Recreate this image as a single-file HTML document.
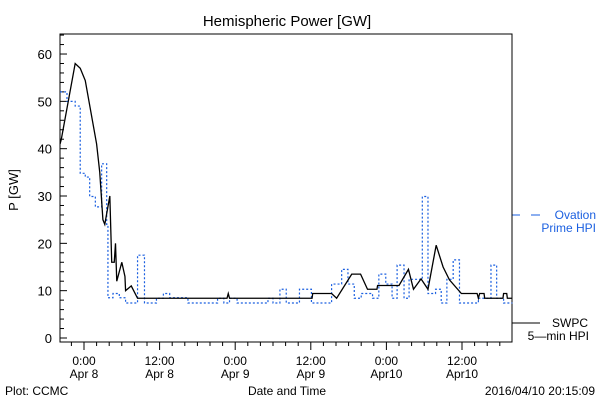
<!DOCTYPE html>
<html><head><meta charset="utf-8"><style>
body{margin:0;background:#fff;width:600px;height:400px;overflow:hidden}
svg text{font-family:"Liberation Sans",sans-serif}
</style></head><body>
<svg id="chart" width="600" height="400" xmlns="http://www.w3.org/2000/svg">
<text x="287" y="26" font-size="15" text-anchor="middle">Hemispheric Power [GW]</text>
<text x="0" y="0" font-size="13" text-anchor="middle" transform="translate(18,190) rotate(-90)">P [GW]</text>
<text x="287" y="395" font-size="12" text-anchor="middle">Date and Time</text>
<text x="5" y="395" font-size="12">Plot: CCMC</text>
<text x="595" y="395" font-size="12" text-anchor="end">2016/04/10 20:15:09</text>
<g fill="#1a5fe0">
<line x1="512" y1="215" x2="520" y2="215" stroke="#1a5fe0"/>
<line x1="531" y1="215" x2="540" y2="215" stroke="#1a5fe0"/>
<text x="596" y="219" font-size="12" text-anchor="end">Ovation</text>
<text x="596" y="232" font-size="12" text-anchor="end">Prime HPI</text>
</g>
<g>
<line x1="512" y1="323" x2="540" y2="323" stroke="#000"/>
<text x="588" y="327" font-size="12" text-anchor="end">SWPC</text>
<text x="589" y="340" font-size="12" text-anchor="end">5—min HPI</text>
</g>
<g id="plot"></g>
</svg>
<script>
// hours relative to Apr 8 00:00
const yTicks=[0,10,20,30,40,50,60];
const xTickHours=[0,12,24,36,48,60];
const xTickTop=["0:00","12:00","0:00","12:00","0:00","12:00"];
const xTickBottom=["Apr 8","Apr 8","Apr 9","Apr 9","Apr10","Apr10"];
const swpcT=[-3.8,-3.6,-1.4,-0.6,0.2,2,2.5,3,3.3,4.1,4.4,4.8,5,5.2,6,6.5,6.6,7.5,8.5,22.7,22.9,23.1,36.2,36.3,39.3,40.1,42.5,43.9,45,46.5,46.6,50,51.5,52.3,53.5,54.6,55.9,57,58,59.9,62.4,62.6,62.8,63.5,63.6,66.5,66.6,67.1,67.2,68];
const swpcV=[41,42,58,57,54.4,41,35,25,24,30,16,16,20,12,16,13,10,11,8.4,8.4,9.4,8.4,8.4,9.4,9.4,8.4,13.5,13.5,10.3,10.3,11.1,11.1,14.5,10.3,12.5,10.3,19.6,15,12.3,9.4,9.4,8.4,9.4,9.4,8.4,8.4,9.4,9.4,8.4,8.4];
const ovT=[-3.8,-2.7,-1.4,-0.6,0.2,0.9,1.8,2.8,3.6,3.8,4.6,5.6,6.6,8.5,9.6,11.5,12.6,13.6,16.5,21.2,22.2,23.1,24.3,29.2,30,31.1,32.1,34.2,36.1,39.3,40.9,41.9,42.9,44,45.8,46.8,47.9,48.9,49.7,50.8,51.6,53.7,54.6,55.8,56.7,57.6,58.6,59.6,62.6,64.6,65.5,66.6];
const ovV=[52,50,49,34.8,34,29.9,27.7,36.8,24,8.5,9.4,8.5,7.4,17.5,7.4,8.4,9.4,8.5,7.4,8.4,7.4,8.4,7.4,8.4,7.4,10.3,7.4,10.3,7.4,11.4,14.5,11.4,8.4,9.4,8.4,13.5,11.4,8.4,15.4,8.4,12.4,29.9,9.4,10.3,7.4,12.4,16.5,7.4,8.4,15.4,8.4,7.4];
const X0=60,X1=512,Y0=34,Y1=342;
const xs=h=>84+h*6.3;
const ys=v=>338-v*4.733;
const ns="http://www.w3.org/2000/svg";
const g=document.getElementById('plot');
function mk(t,a){const e=document.createElementNS(ns,t);for(const k in a)e.setAttribute(k,a[k]);g.appendChild(e);return e;}
const frame=mk('rect',{x:X0,y:Y0,width:X1-X0,height:Y1-Y0,fill:'none',stroke:'#000'});


for(let v=0;v<=64;v+=2){const maj=v%10===0;const y=ys(v);
 const t=mk('line',{x1:X0,x2:X0+(maj?7:4),y1:y,y2:y,stroke:'#000'});
 
 }
yTicks.forEach(v=>{const t=mk('text',{x:52,y:ys(v)+5,'font-size':13,'text-anchor':'end'});t.textContent=v;
 
 });
for(let h=-2;h<=68;h+=2){const maj=h%12===0;const x=xs(h);if(x>X1)break;
 const t=mk('line',{x1:x,x2:x,y1:Y1,y2:Y1+(maj?8:4),stroke:'#000'});
 
 }
xTickHours.forEach((h,i)=>{
 const a=mk('text',{x:xs(h),y:365,'font-size':12,'text-anchor':'middle'});a.textContent=xTickTop[i];
 
 
 const b=mk('text',{x:xs(h),y:378,'font-size':12,'text-anchor':'middle'});b.textContent=xTickBottom[i];
 
 });
let d='';ovT.forEach((t,i)=>{const x=xs(t),y=ys(ovV[i]);d+=(i?'L'+x+' '+ys(ovV[i-1])+' ':'M')+x+' '+y+' ';});
d+='L'+xs(68)+' '+ys(ovV[ovV.length-1]);
const ov=mk('path',{d:d,fill:'none',stroke:'#1a5fe0','stroke-width':1.2,'stroke-dasharray':'2,2'});


const sw=mk('path',{d:swpcT.map((t,i)=>(i?'L':'M')+xs(t)+' '+ys(swpcV[i])).join(' '),fill:'none',stroke:'#000','stroke-width':1.3});


</script>
</body></html>
